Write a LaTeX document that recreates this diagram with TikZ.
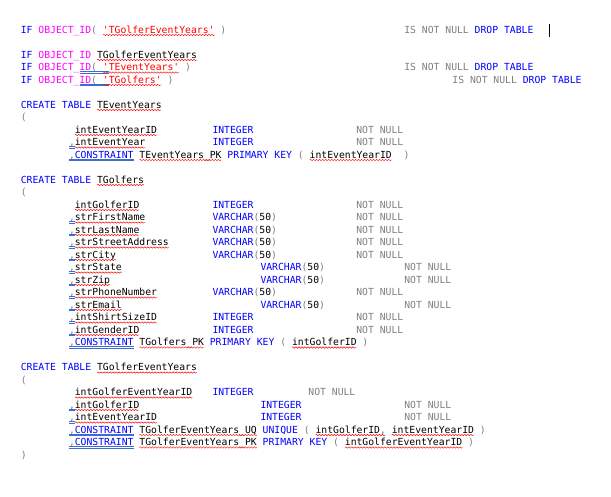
\documentclass[tikz,border=0pt]{standalone}
\usepackage{fontspec}
\usetikzlibrary{positioning}
\usetikzlibrary{calc}
\usetikzlibrary{decorations.pathmorphing}
\newfontfamily\codefont{DejaVu Sans Mono}
\definecolor{sqlblue}{RGB}{0,0,255}
\definecolor{sqlpink}{RGB}{255,0,255}
\definecolor{sqlred}{RGB}{255,0,0}
\definecolor{sqlgray}{RGB}{128,128,128}
\definecolor{tagblue}{RGB}{60,110,210}
\newcommand\kw[1]{\textcolor{sqlblue}{#1}}
\newcommand\fnc[1]{\textcolor{sqlpink}{#1}}
\newcommand\lit[1]{\textcolor{sqlred}{#1}}
\newcommand\gy[1]{\textcolor{sqlgray}{#1}}
\newcommand\squote{\textquotesingle}
\newcommand\intg{\kw{INTEGER}}
\newcommand\vc{\kw{VARCHAR}\gy{(}50\gy{)}}
\def\cw{5.87}
% red wave under some columns of a line
\newcommand\spellwave[3]{\draw[spell wave] ($(#1.base west)+(#2*\cw,2)$) -- ++(#3*\cw,0);}
% blue double line under some columns of a line
\newcommand\smarttag[3]{\draw[smart tag] ($(#1.base west)+(#2*\cw,1)$) -- ++(#3*\cw,0)
  ($(#1.base west)+(#2*\cw,2.5)$) -- ++(#3*\cw,0);}
\frenchspacing

\begin{document}
\begin{tikzpicture}[x=1pt,y=-1pt,
  code text/.style={font=\codefont\fontsize{9.75}{12}\selectfont,anchor=base west,inner sep=0pt,outer sep=0pt},
  spell wave/.style={draw=sqlred,line width=0.45pt,decorate,decoration={snake,amplitude=0.7pt,segment length=3pt}},
  smart tag/.style={draw=tagblue,line width=0.5pt}]

  \fill[white] (0,0) rectangle (611,496);
  \useasboundingbox (0,0) rectangle (611,496);

  % drop statements
  \node[code text] (drop1) at (20.8,33) {\kw{IF} \fnc{OBJECT\_ID}\gy{(} \lit{\squote TGolferEventYears\squote} \gy{)}};
  \node[code text] (null1) at (404.3,33) {\gy{IS NOT NULL} \kw{DROP TABLE}};
  \draw[line width=0.6pt] (549,24) -- (549,36.5);
  \node[code text] (drop2) at (20.8,58) {\kw{IF} \fnc{OBJECT\_ID} TGolferEventYears};
  \node[code text] (drop3) at (20.8,70.5) {\kw{IF} \fnc{OBJECT\_ID}\gy{(} \lit{\squote TEventYears\squote} \gy{)}};
  \node[code text] (null3) at (404.3,70.5) {\gy{IS NOT NULL} \kw{DROP TABLE}};
  \node[code text] (drop4) at (20.8,83) {\kw{IF} \fnc{OBJECT\_ID}\gy{(} \lit{\squote TGolfers\squote} \gy{)}};
  \node[code text] (null4) at (452.4,83) {\gy{IS NOT NULL} \kw{DROP TABLE}};
  \spellwave{drop1}{14}{19}
  \spellwave{drop2}{13}{17}
  \smarttag{drop3}{10}{5}
  \spellwave{drop3}{14}{13}
  \smarttag{drop4}{10}{5}
  \spellwave{drop4}{14}{10}

  % create table heads and brackets
  \node[code text] (evyears) at (20.8,108) {\kw{CREATE TABLE} TEventYears};
  \node[code text] (evopen) at (20.8,120.5) {\gy{(}};
  \node[code text] (golfers) at (20.8,183) {\kw{CREATE TABLE} TGolfers};
  \node[code text] (gopen) at (20.8,195.5) {\gy{(}};
  \node[code text] (gevyears) at (20.8,370.5) {\kw{CREATE TABLE} TGolferEventYears};
  \node[code text] (geopen) at (20.8,383) {\gy{(}};
  \node[code text] (geclose) at (20.8,458) {\gy{)}};
  \spellwave{evyears}{13}{11}
  \spellwave{golfers}{13}{8}
  \spellwave{gevyears}{13}{17}

  % first column of each table
  \foreach \fname/\tx/\nx/\y [count=\i] in {
    intEventYearID/212.5/356.3/133,
    intGolferID/212.5/356.3/208,
    intGolferEventYearID/212.5/308.4/395.5} {
    \node[code text] (key\i) at (74.87,\y) {\fname};
    \node[code text] (keyt\i) at (\tx,\y) {\intg};
    \node[code text] (keyn\i) at (\nx,\y) {\gy{NOT NULL}};
    \draw[spell wave] ([yshift=-2pt]key\i.base west) -- ([yshift=-2pt]key\i.base east);
  }

  % other columns
  \foreach \fname/\ftype/\tx/\nx/\y [count=\i] in {
    intEventYear/\intg/212.5/356.3/145.5,
    strFirstName/\vc/212.5/356.3/220.5,
    strLastName/\vc/212.5/356.3/233,
    strStreetAddress/\vc/212.5/356.3/245.5,
    strCity/\vc/212.5/356.3/258,
    strState/\vc/260.5/404.3/270.5,
    strZip/\vc/260.5/404.3/283,
    strPhoneNumber/\vc/212.5/356.3/295.5,
    strEmail/\vc/260.5/404.3/308,
    intShirtSizeID/\intg/212.5/356.3/320.5,
    intGenderID/\intg/212.5/356.3/333,
    intGolferID/\intg/260.5/404.3/408,
    intEventYearID/\intg/260.5/404.3/420.5} {
    \node[code text] (fld\i) at (74.87,\y) {\fname};
    \node[code text,base left=0pt of fld\i] (fldc\i) {\gy{,}};
    \node[code text] (fldt\i) at (\tx,\y) {\ftype};
    \node[code text] (fldn\i) at (\nx,\y) {\gy{NOT NULL}};
    \draw[spell wave] ([yshift=-2pt]fld\i.base west) -- ([yshift=-2pt]fld\i.base east);
    \smarttag{fldc\i}{0}{1}
  }

  % constraints
  \node[code text] (evpk) at (69,158) {\gy{,}\kw{CONSTRAINT} TEventYears\_PK \kw{PRIMARY KEY} \gy{(} intEventYearID\ \ \gy{)}};
  \node[code text] (gpk) at (69,345.5) {\gy{,}\kw{CONSTRAINT} TGolfers\_PK \kw{PRIMARY KEY} \gy{(} intGolferID \gy{)}};
  \node[code text] (geuq) at (69,433) {\gy{,}\kw{CONSTRAINT} TGolferEventYears\_UQ \kw{UNIQUE} \gy{(} intGolferID\gy{,} intEventYearID \gy{)}};
  \node[code text] (gepk) at (69,445.5) {\gy{,}\kw{CONSTRAINT} TGolferEventYears\_PK \kw{PRIMARY KEY} \gy{(} intGolferEventYearID \gy{)}};
  \smarttag{evpk}{0}{11}
  \spellwave{evpk}{12}{14}
  \spellwave{evpk}{41}{14}
  \smarttag{gpk}{0}{11}
  \spellwave{gpk}{12}{11}
  \spellwave{gpk}{38}{11}
  \smarttag{geuq}{0}{11}
  \spellwave{geuq}{12}{20}
  \spellwave{geuq}{42}{12}
  \spellwave{geuq}{55}{14}
  \smarttag{gepk}{0}{11}
  \spellwave{gepk}{12}{20}
  \spellwave{gepk}{47}{20}
\end{tikzpicture}
\end{document}
